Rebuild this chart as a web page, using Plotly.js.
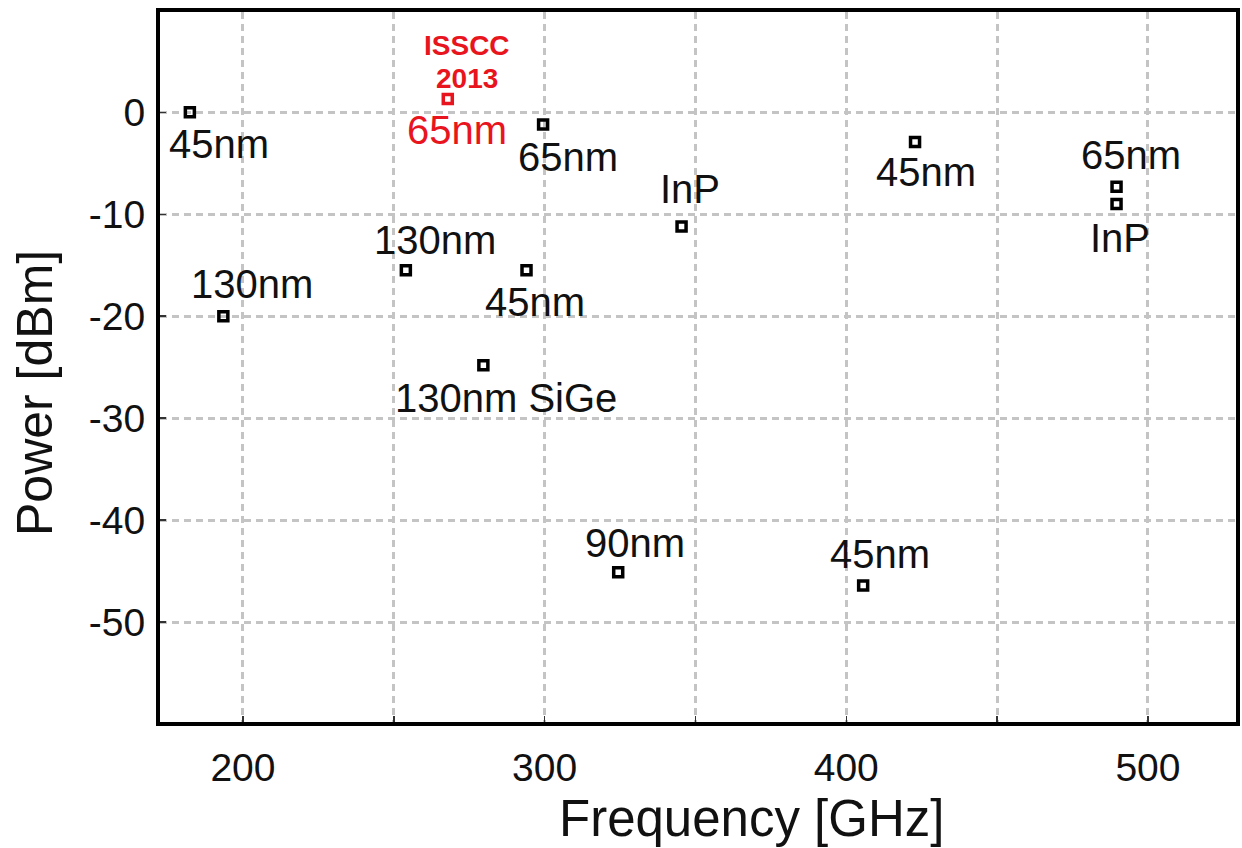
<!DOCTYPE html>
<html>
<head>
<meta charset="utf-8">
<script src="https://cdn.plot.ly/plotly-3.0.1.min.js"></script>
<style>
  html, body { margin: 0; padding: 0; background: #fff; }
  #chart { width: 1242px; height: 848px; }
</style>
</head>
<body>
<div id="chart"></div>
<script>
// ---- data ----
const freqGHz  = [182.4, 193.5, 254.0, 279.7, 294.0, 299.5, 324.4, 345.4, 405.6, 422.8, 489.6, 489.6];
const powerDBm = [0.0, -20.0, -15.5, -24.8, -15.5, -1.2, -45.1, -11.2, -46.4, -2.9, -7.3, -9.0];
const techLabels = ["45nm", "130nm", "130nm", "130nm SiGe", "45nm", "65nm", "90nm", "InP", "45nm", "45nm", "65nm", "InP"];

const thisWorkFreq  = [267.9];
const thisWorkPower = [1.3];
const thisWorkLabel = ["65nm"];
const thisWorkNote  = ["ISSCC", "2013"];

const xTickVals = [200, 250, 300, 350, 400, 450, 500];
const xTickText = ["200", "", "300", "", "400", "", "500"];
const yTickVals = [0, -10, -20, -30, -40, -50];

// ---- layout helpers (pixel offsets of labels relative to their markers) ----
const labelShift = [[29,-32],[29,32],[29,30],[23,-33],[8,-32],[25,-32],[17,29],[8,38],[17,31],[11,-30],[14,32],[3,-34]];
const FONT = "Liberation Sans, Arial, sans-serif";
const RED = "#e8141e";

const traces = [
  {
    type: "scatter", mode: "markers",
    x: freqGHz, y: powerDBm,
    marker: { symbol: "square-open", size: 9, color: "#000", line: { width: 3.5, color: "#000" } },
    hoverinfo: "x+y", showlegend: false
  },
  {
    type: "scatter", mode: "markers",
    x: thisWorkFreq, y: thisWorkPower,
    marker: { symbol: "square-open", size: 9, color: RED, line: { width: 3.5, color: RED } },
    hoverinfo: "x+y", showlegend: false
  }
];

const annotations = techLabels.map((t, i) => ({
  x: freqGHz[i], y: powerDBm[i], xref: "x", yref: "y",
  text: t, showarrow: false,
  xshift: labelShift[i][0], yshift: labelShift[i][1],
  font: { family: FONT, size: 40, color: "#111" }
}));

annotations.push({
  x: thisWorkFreq[0], y: thisWorkPower[0], xref: "x", yref: "y",
  text: thisWorkLabel[0], showarrow: false, xshift: 9, yshift: -31,
  font: { family: FONT, size: 40, color: RED }
});
annotations.push({
  x: thisWorkFreq[0], y: thisWorkPower[0], xref: "x", yref: "y",
  text: "<b>" + thisWorkNote[0] + "</b>", showarrow: false, xshift: 19, yshift: 54,
  font: { family: FONT, size: 28, color: RED }
});
annotations.push({
  x: thisWorkFreq[0], y: thisWorkPower[0], xref: "x", yref: "y",
  text: "<b>" + thisWorkNote[1] + "</b>", showarrow: false, xshift: 19, yshift: 21,
  font: { family: FONT, size: 28, color: RED }
});
// axis titles
annotations.push({
  xref: "paper", yref: "paper", x: (751 - 160) / 1076, y: -(818 - 722) / 710,
  text: "Frequency [GHz]", showarrow: false, xanchor: "center", yanchor: "middle",
  font: { family: FONT, size: 51, color: "#111" }
});
annotations.push({
  xref: "paper", yref: "paper", x: -(160 - 35) / 1076, y: (722 - 393) / 710,
  text: "Power [dBm]", showarrow: false, textangle: -90, xanchor: "center", yanchor: "middle",
  font: { family: FONT, size: 50, color: "#111" }
});

const layout = {
  width: 1242, height: 848,
  margin: { l: 160, r: 6, t: 12, b: 126 },
  paper_bgcolor: "#fff", plot_bgcolor: "#fff",
  showlegend: false,
  xaxis: {
    range: [172.5, 529.2],
    tickmode: "array", tickvals: xTickVals, ticktext: xTickText,
    showgrid: true, gridcolor: "#c4c4c4", gridwidth: 3, griddash: "7px,5px",
    zeroline: false,
    showline: true, linecolor: "#000", linewidth: 4, mirror: true,
    ticks: "inside", ticklen: 6, tickwidth: 1.5, tickcolor: "#333",
    ticklabelstandoff: 8,
    tickfont: { family: FONT, size: 39, color: "#111" }
  },
  yaxis: {
    range: [-59.8, 9.84],
    tickmode: "array", tickvals: yTickVals, ticktext: yTickVals.map(v => v === 0 ? "0" : "-" + Math.abs(v)),
    showgrid: true, gridcolor: "#c4c4c4", gridwidth: 3, griddash: "7px,5px",
    zeroline: false,
    showline: true, linecolor: "#000", linewidth: 4, mirror: true,
    ticks: "inside", ticklen: 6, tickwidth: 1.5, tickcolor: "#333",
    ticklabelstandoff: 3,
    tickfont: { family: FONT, size: 39, color: "#111" }
  },
  annotations: annotations
};

Plotly.newPlot("chart", traces, layout, { displayModeBar: false, staticPlot: true });
</script>
</body>
</html>
